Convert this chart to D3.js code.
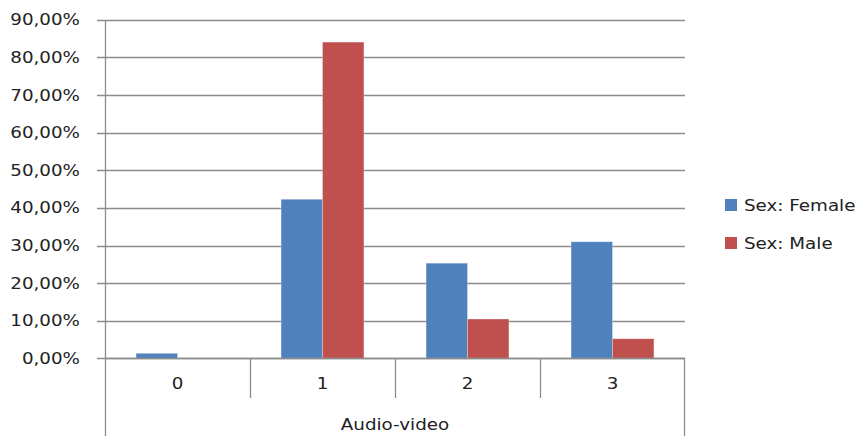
<!DOCTYPE html>
<html><head><meta charset="utf-8">
<script src="https://cdn.jsdelivr.net/npm/d3@7"></script>
<style>body{margin:0;background:#fff}svg{display:block}</style>
</head><body>
<script>
const categories = ["0","1","2","3"];
const seriesNames = ["Sex: Female","Sex: Male"];
const female = [0.0133, 0.423, 0.253, 0.310];
const male = [0, 0.841, 0.1045, 0.052];
const yTicks = [0,0.1,0.2,0.3,0.4,0.5,0.6,0.7,0.8,0.9];
const colors = ["#4f81bd","#c0504d"];
const axisTitle = "Audio-video";

const W=863,H=436;
const svg=d3.select("body").append("svg").attr("width",W).attr("height",H);
const pL=105,pR=685,pT=19.9,pB=358.3;
const x=d3.scaleBand().domain(categories).range([pL,pR]).paddingInner(0).paddingOuter(0);
const y=d3.scaleLinear().domain([0,0.9]).range([pB,pT]);
const xs=d3.scaleBand().domain([0,1]).range([0,x.bandwidth()]).paddingInner(0).paddingOuter(0.75);
const SX=1.22, FS=15, FF="'DejaVu Sans', sans-serif";
const fmt=v=>d3.format(".2f")(v*100).replace(".",",")+"%";
function txt(g,xx,yy,s,anchor){
  return g.append("text").attr("transform",`translate(${xx},${yy}) scale(${SX},1)`)
    .attr("text-anchor",anchor).attr("font-family",FF).attr("font-size",FS).attr("fill","#222").text(s);
}
const gridC="#8c8c8c";
svg.append("g").selectAll("line").data(yTicks).join("line")
  .attr("x1",pL-8).attr("x2",pR).attr("y1",d=>Math.round(y(d))+0.5).attr("y2",d=>Math.round(y(d))+0.5)
  .attr("stroke",gridC).attr("stroke-width",1.3);
const gl=svg.append("g");
yTicks.forEach(t=>txt(gl,80,y(t)+5.5,fmt(t),"end"));
const data=categories.map((c,i)=>({c,vals:[female[i],male[i]]}));
const g=svg.append("g");
data.forEach(d=>{
  d.vals.forEach((v,j)=>{
    if(v<=0) return;
    g.append("rect").attr("x",x(d.c)+xs(j)).attr("width",xs.bandwidth()).attr("y",y(v)).attr("height",y(0)-y(v))
      .attr("fill",colors[j]).attr("stroke","rgba(255,255,255,0.35)").attr("stroke-width",0.8);
  });
});
svg.append("line").attr("x1",pL+0.5).attr("x2",pL+0.5).attr("y1",pT).attr("y2",H).attr("stroke",gridC).attr("stroke-width",1.3);
svg.append("line").attr("x1",pR-0.5).attr("x2",pR-0.5).attr("y1",pB).attr("y2",H).attr("stroke",gridC).attr("stroke-width",1.3);
svg.append("line").attr("x1",pL).attr("x2",pR).attr("y1",Math.round(pB)+0.5).attr("y2",Math.round(pB)+0.5).attr("stroke",gridC).attr("stroke-width",1.3);
svg.append("g").selectAll("line").data(categories.slice(1)).join("line")
  .attr("x1",d=>x(d)+0.5).attr("x2",d=>x(d)+0.5).attr("y1",pB).attr("y2",398)
  .attr("stroke",gridC).attr("stroke-width",1.3);
const cl=svg.append("g");
categories.forEach(c=>txt(cl,x(c)+x.bandwidth()/2,389,c,"middle"));
txt(svg,(pL+pR)/2,430,axisTitle,"middle");
const lg=svg.append("g");
seriesNames.forEach((s,i)=>{
  const ly=199+i*38;
  lg.append("rect").attr("x",725).attr("y",ly).attr("width",12).attr("height",12).attr("fill",colors[i]);
  txt(lg,744,ly+11.5,s,"start");
});
</script>
</body></html>
